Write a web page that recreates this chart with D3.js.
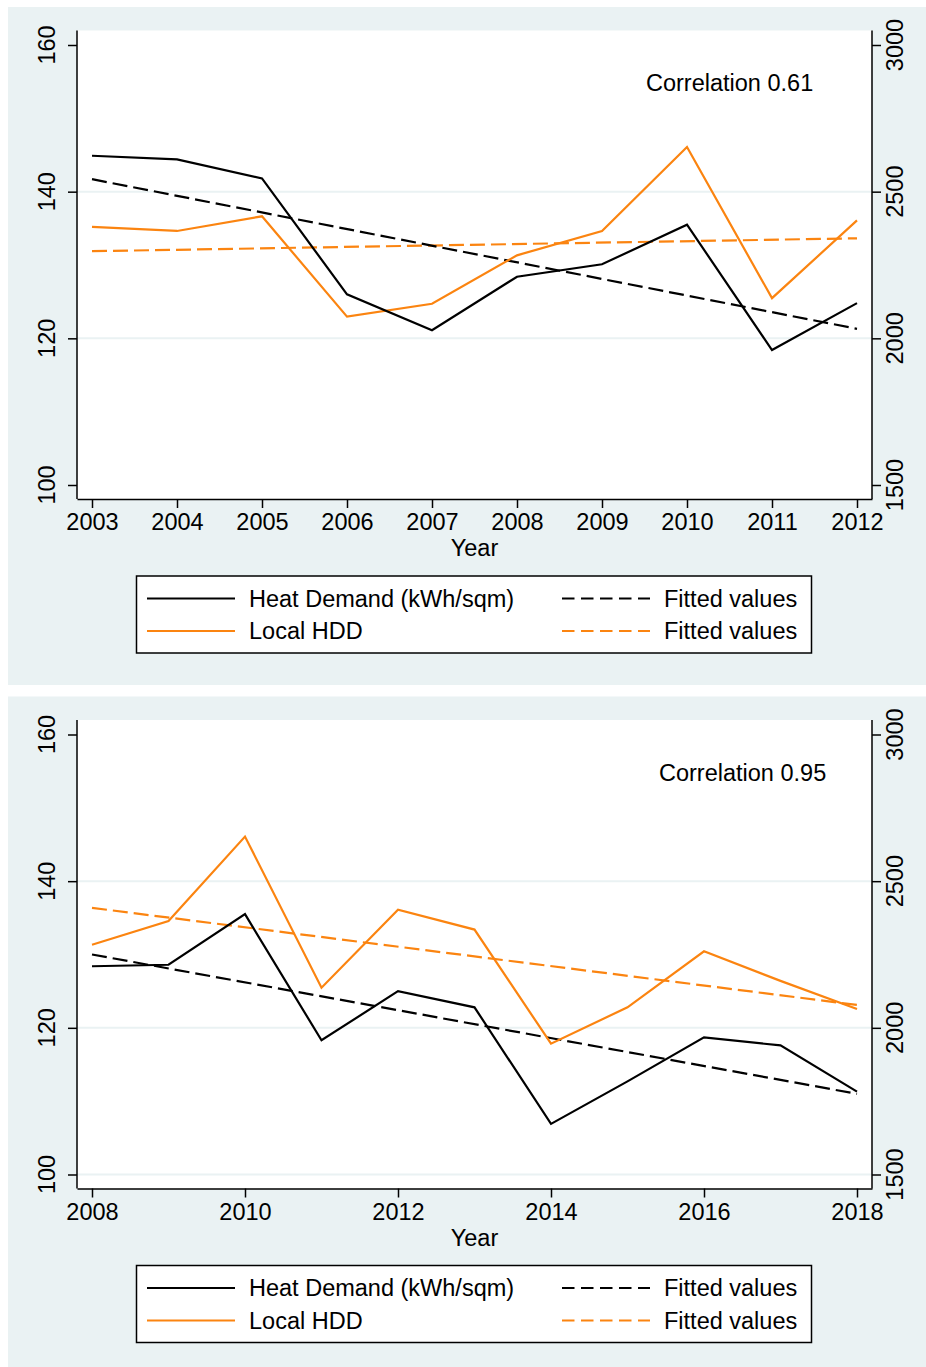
<!DOCTYPE html>
<html lang="en">
<head>
<meta charset="UTF-8">
<title>Heat Demand vs Local HDD</title>
<script src="https://d3js.org/d3.v7.min.js"></script>
<style>
    body { margin: 0; background: #fff; }
    svg text { font-family: "Liberation Sans", Arial, Helvetica, sans-serif; fill: #000; }
</style>
</head>
<body>
<div id="chart"></div>
<script>
    // panel 1: 2003-2012
    const years1 = [2003, 2004, 2005, 2006, 2007, 2008, 2009, 2010, 2011, 2012];
    const heat1 = [144.9, 144.4, 141.8, 126.0, 121.1, 128.4, 130.1, 135.5, 118.4, 124.8];
    const hdd1 = [2380, 2366, 2416, 2074, 2118, 2283, 2366, 2652, 2137, 2402];
    const heatFit1 = [141.7, 121.3];   // fitted line at first / last year
    const hddFit1 = [2297, 2341];
    const corr1 = "Correlation 0.61";

    // panel 2: 2008-2018
    const years2 = [2008, 2009, 2010, 2011, 2012, 2013, 2014, 2015, 2016, 2017, 2018];
    const heat2 = [128.4, 128.6, 135.5, 118.3, 125.0, 122.8, 106.9, 112.7, 118.7, 117.6, 111.3];
    const hdd2 = [2283, 2364, 2652, 2137, 2403, 2335, 1946, 2070, 2261, 2160, 2064];
    const heatFit2 = [130.0, 111.0];
    const hddFit2 = [2409, 2078];
    const corr2 = "Correlation 0.95";

    const xTicks1 = years1;
    const xTicks2 = [2008, 2010, 2012, 2014, 2016, 2018];
    const leftTicks = [100, 120, 140, 160];
    const rightTicks = [1500, 2000, 2500, 3000];
    const legendLabels = ["Heat Demand (kWh/sqm)", "Local HDD", "Fitted values", "Fitted values"];

    const W = 926, H = 1367;
    const BG = "#eaf2f3", ORANGE = "#fb8410", FS = 23.5;

    const svg = d3.select("#chart").append("svg")
        .attr("width", W).attr("height", H);

    function drawPanel(p) {
        const g = svg.append("g").attr("transform", `translate(0,${p.oy})`);

        // panel background
        g.append("rect").attr("x", 8).attr("y", 7)
            .attr("width", W - 8).attr("height", 678).attr("fill", BG);

        // plot area
        const left = 77, right = 872, top = 30.5, bottom = 499;
        g.append("rect").attr("x", left).attr("y", top)
            .attr("width", right - left).attr("height", bottom - top).attr("fill", "#fff");

        // first/last year sit at 92 / 857 px, axis extends past them
        const x0 = d3.scaleLinear().domain(d3.extent(p.years)).range([92, 857]);
        const x = d3.scaleLinear().domain([x0.invert(left), x0.invert(right)]).range([left, right]);
        const yL = d3.scaleLinear().domain([100, 160]).range([485, 45]);
        const yR = d3.scaleLinear().domain([1500, 3000]).range([485, 45]);

        // gridlines
        g.append("g").selectAll("line").data(p.grid).join("line")
            .attr("x1", left).attr("x2", right)
            .attr("y1", d => yL(d)).attr("y2", d => yL(d))
            .attr("stroke", BG).attr("stroke-width", 2);

        // axes
        const ax = g.append("g").attr("transform", `translate(0,${bottom})`)
            .call(d3.axisBottom(x).tickValues(p.xTicks).tickFormat(d3.format("d"))
                .tickSize(9).tickSizeOuter(0).tickPadding(6));
        const ayL = g.append("g").attr("transform", `translate(${left},0)`)
            .call(d3.axisLeft(yL).tickValues(leftTicks).tickSize(9).tickFormat(""));
        const ayR = g.append("g").attr("transform", `translate(${right},0)`)
            .call(d3.axisRight(yR).tickValues(rightTicks).tickSize(9).tickFormat(""));

        ayL.select(".domain").attr("d", `M0,${top}V${bottom}`);
        ayR.select(".domain").attr("d", `M0,${top}V${bottom}`);
        [ax, ayL, ayR].forEach(a => {
            a.selectAll(".domain, .tick line").attr("stroke", "#000").attr("stroke-width", 1.5);
        });
        ax.selectAll(".tick text").attr("font-size", FS).attr("dy", null).attr("y", 31)
            .attr("font-family", "Liberation Sans, Arial, sans-serif");

        // rotated y tick labels
        g.append("g").selectAll("text").data(leftTicks).join("text")
            .attr("transform", d => `translate(55,${yL(d)}) rotate(-90)`)
            .attr("text-anchor", "middle").attr("font-size", FS).text(d => d);
        g.append("g").selectAll("text").data(rightTicks).join("text")
            .attr("transform", d => `translate(903,${yR(d)}) rotate(-90)`)
            .attr("text-anchor", "middle").attr("font-size", FS).text(d => d);

        // x title
        g.append("text").attr("x", (left + right) / 2).attr("y", 556)
            .attr("text-anchor", "middle").attr("font-size", FS).text("Year");

        // series
        const ends = d3.extent(p.years);
        const lineL = d3.line().x(d => x(d[0])).y(d => yL(d[1]));
        const lineR = d3.line().x(d => x(d[0])).y(d => yR(d[1]));

        g.append("path").datum(ends.map((yr, i) => [yr, p.hddFit[i]]))
            .attr("d", lineR).attr("fill", "none").attr("stroke", ORANGE)
            .attr("stroke-width", 2.2).attr("stroke-dasharray", "15 6");
        g.append("path").datum(ends.map((yr, i) => [yr, p.heatFit[i]]))
            .attr("d", lineL).attr("fill", "none").attr("stroke", "#000")
            .attr("stroke-width", 2.2).attr("stroke-dasharray", "15 6");
        g.append("path").datum(p.years.map((yr, i) => [yr, p.hdd[i]]))
            .attr("d", lineR).attr("fill", "none").attr("stroke", ORANGE)
            .attr("stroke-width", 2.2).attr("stroke-linejoin", "miter");
        g.append("path").datum(p.years.map((yr, i) => [yr, p.heat[i]]))
            .attr("d", lineL).attr("fill", "none").attr("stroke", "#000")
            .attr("stroke-width", 2.2).attr("stroke-linejoin", "miter");

        // correlation note
        g.append("text").attr("x", p.corrX).attr("y", 91)
            .attr("font-size", FS).text(p.corr);

        // legend
        const lg = g.append("g");
        lg.append("rect").attr("x", 136.5).attr("y", 576).attr("width", 675).attr("height", 77)
            .attr("fill", "#fff").attr("stroke", "#000").attr("stroke-width", 1.5);
        const items = [
            { x: 147, y: 598.5, c: "#000", dash: null, t: legendLabels[0] },
            { x: 147, y: 631, c: ORANGE, dash: null, t: legendLabels[1] },
            { x: 562, y: 598.5, c: "#000", dash: "12.5 6.5", t: legendLabels[2] },
            { x: 562, y: 631, c: ORANGE, dash: "12.5 6.5", t: legendLabels[3] }
        ];
        items.forEach(it => {
            lg.append("line").attr("x1", it.x).attr("x2", it.x + 88)
                .attr("y1", it.y).attr("y2", it.y)
                .attr("stroke", it.c).attr("stroke-width", 2)
                .attr("stroke-dasharray", it.dash);
            lg.append("text").attr("x", it.x + 102).attr("y", it.y + 8)
                .attr("font-size", FS).text(it.t);
        });
    }

    drawPanel({ oy: 0, years: years1, heat: heat1, hdd: hdd1, heatFit: heatFit1, hddFit: hddFit1,
        xTicks: xTicks1, grid: [120, 140], corr: corr1, corrX: 646 });
    drawPanel({ oy: 689.5, years: years2, heat: heat2, hdd: hdd2, heatFit: heatFit2, hddFit: hddFit2,
        xTicks: xTicks2, grid: [100, 120, 140], corr: corr2, corrX: 659 });
</script>
</body>
</html>
